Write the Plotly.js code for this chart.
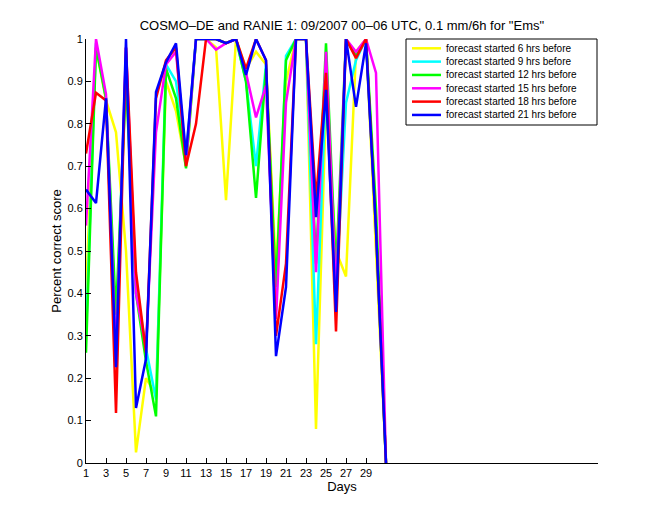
<!DOCTYPE html>
<html>
<head>
<meta charset="utf-8">
<script src="https://cdn.plot.ly/plotly-3.0.1.min.js"></script>
<style>html,body{margin:0;padding:0;background:#fff;}#chart{width:660px;height:520px;}</style>
</head>
<body>
<div id="chart"></div>
<script>
const days = [1,2,3,4,5,6,7,8,9,10,11,12,13,14,15,16,17,18,19,20,21,22,23,24,25,26,27,28,29,30,31];
const xTicks = [1,3,5,7,9,11,13,15,17,19,21,23,25,27,29];
const yTicks = [0,0.1,0.2,0.3,0.4,0.5,0.6,0.7,0.8,0.9,1];

const fc6  = [0.40,0.98,0.855,0.78,0.50,0.025,0.20,0.16,0.90,0.83,0.70,1.0,1.0,0.98,0.62,1.0,0.93,0.97,0.94,0.45,0.90,1.0,1.0,0.08,0.85,0.50,0.44,0.97,1.0,0.50,0];
const fc9  = [0.30,0.99,0.86,0.30,0.95,0.42,0.27,0.15,0.94,0.90,0.72,1.0,1.0,1.0,0.99,1.0,0.90,0.70,0.94,0.36,0.96,1.0,1.0,0.28,0.90,0.40,0.85,0.95,1.0,0.55,0];
const fc12 = [0.26,0.98,0.86,0.35,0.90,0.40,0.24,0.11,0.93,0.86,0.695,1.0,1.0,1.0,0.99,1.0,0.90,0.625,0.93,0.415,0.95,1.0,1.0,0.47,0.99,0.45,1.0,0.96,1.0,0.60,0];
const fc15 = [0.56,1.0,0.87,0.25,0.98,0.40,0.27,0.78,0.94,0.97,0.71,1.0,1.0,0.975,0.99,1.0,0.92,0.815,0.89,0.34,0.85,1.0,1.0,0.45,0.97,0.40,1.0,0.97,1.0,0.92,0];
const fc18 = [0.73,0.873,0.855,0.118,0.98,0.45,0.26,0.86,0.95,0.98,0.70,0.80,1.0,1.0,0.99,1.0,0.93,1.0,0.95,0.30,0.47,1.0,1.0,0.62,0.92,0.31,1.0,0.955,1.0,0.55,0];
const fc21 = [0.645,0.613,0.86,0.226,1.0,0.13,0.245,0.875,0.945,0.99,0.726,1.0,1.0,1.0,0.99,1.0,0.915,1.0,0.95,0.252,0.415,1.0,1.0,0.58,0.88,0.356,1.0,0.84,0.99,0.55,0];

const seriesNames = ['forecast started 6 hrs before','forecast started 9 hrs before','forecast started 12 hrs before','forecast started 15 hrs before','forecast started 18 hrs before','forecast started 21 hrs before'];
const seriesValues = [fc6, fc9, fc12, fc15, fc18, fc21];
const seriesColors = ['#ffff00','#00ffff','#00ff00','#ff00ff','#ff0000','#0000ff'];

const traces = seriesValues.map((v, i) => ({
  x: days, y: v, name: seriesNames[i], type: 'scatter', mode: 'lines',
  line: {color: seriesColors[i], width: 2.5}, showlegend: false
}));

const font = {family: 'Liberation Sans, Arial, sans-serif', color: '#000'};

// custom legend (MATLAB-like compact box) in paper coordinates
const plotL = 86, plotW = 512, plotT = 39, plotH = 424;
const px = p => (p - plotL) / plotW;
const py = p => (plotT + plotH - p) / plotH;
const shapes = [{type: 'rect', xref: 'paper', yref: 'paper', x0: px(406), x1: px(597), y0: py(125), y1: py(39),
  line: {color: '#000', width: 1}, fillcolor: '#fff', layer: 'above'}];
const annotations = [];
seriesNames.forEach((n, i) => {
  const rowY = 48.3 + 13.33 * i;
  shapes.push({type: 'line', xref: 'paper', yref: 'paper', x0: px(412), x1: px(441), y0: py(rowY), y1: py(rowY),
    line: {color: seriesColors[i], width: 2.5}, layer: 'above'});
  annotations.push({xref: 'paper', yref: 'paper', x: px(444), y: py(rowY), xanchor: 'left', yanchor: 'middle',
    text: n, showarrow: false, font: Object.assign({size: 10}, font)});
});

const layout = {
  width: 660, height: 520,
  margin: {l: 86, r: 62, t: 39, b: 57},
  paper_bgcolor: '#fff', plot_bgcolor: '#fff',
  font: Object.assign({size: 11}, font),
  title: {text: 'COSMO\u2013DE and RANIE 1: 09/2007 00\u201306 UTC, 0.1 mm/6h for "Ems"',
          x: 0.518, xanchor: 'center', y: 0.952, yanchor: 'middle',
          font: Object.assign({size: 13}, font)},
  xaxis: {
    range: [1, 52.2], tickmode: 'array', tickvals: xTicks, ticktext: xTicks.map(String),
    ticks: 'inside', ticklen: 5, tickcolor: '#000', showgrid: false, zeroline: false,
    showline: true, linecolor: '#000', linewidth: 1, mirror: false,
    tickfont: Object.assign({size: 11}, font),
    title: {text: 'Days', font: Object.assign({size: 13}, font), standoff: 0}
  },
  yaxis: {
    range: [0, 1], tickmode: 'array', tickvals: yTicks, ticktext: yTicks.map(v => v === 0 ? '0' : v === 1 ? '1' : v.toFixed(1)),
    ticks: 'inside', ticklen: 5, tickcolor: '#000', showgrid: false, zeroline: false,
    showline: true, linecolor: '#000', linewidth: 1, mirror: false,
    tickfont: Object.assign({size: 11}, font),
    title: {text: 'Percent correct score', font: Object.assign({size: 13}, font), standoff: 2}
  },
  showlegend: false,
  shapes: shapes,
  annotations: annotations
};

Plotly.newPlot('chart', traces, layout, {staticPlot: true, displayModeBar: false});
</script>
</body>
</html>
